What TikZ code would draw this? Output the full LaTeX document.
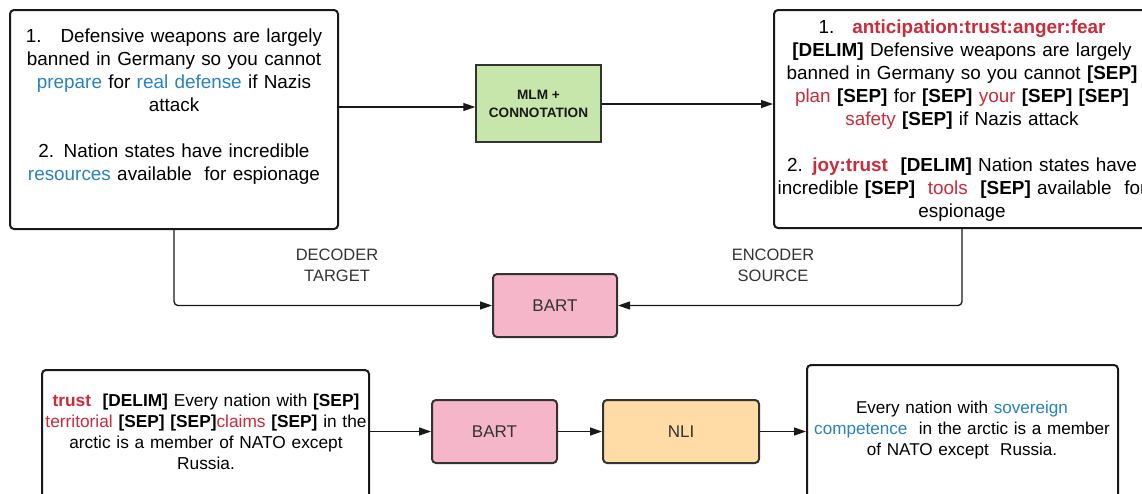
\documentclass[tikz,border=0pt]{standalone}
\usepackage{fontspec}
\setmainfont{Liberation Sans}
\usetikzlibrary{arrows.meta,calc}
\definecolor{myblue}{RGB}{40,130,195}
\definecolor{myred}{RGB}{205,42,58}
\definecolor{mygreen}{RGB}{198,230,172}
\definecolor{mypink}{RGB}{244,182,200}
\definecolor{myorange}{RGB}{255,219,166}
\definecolor{mygrey}{RGB}{51,51,51}
\newcommand\blutxt[1]{\textcolor{myblue}{#1}}
\newcommand\redtxt[1]{\textcolor{myred}{#1}}
\newcommand\redbold[1]{\textcolor{myred}{\textbf{#1}}}
\newcommand\SEPt{\textbf{[SEP]}}
\newcommand\DELIMt{\textbf{[DELIM]}}
\begin{document}
\begin{tikzpicture}[x=1pt,y=-1pt,
  plainbox/.style={draw=black!90, line width=2, rounded corners=4, fill=white},
  colbox/.style={draw=mygrey, line width=2, rounded corners=4, text=mygrey, font=\fontsize{17}{20}\selectfont},
  bigtxt/.style={align=center, text width=420, font=\fontsize{18.9}{23}\selectfont, inner sep=0},
  midtxt/.style={align=center, text width=400, font=\fontsize{17.3}{21}\selectfont, inner sep=0},
  lbl/.style={align=center, text=mygrey, font=\fontsize{16.5}{21}\selectfont, inner sep=0},
  arr/.style={line width=1.3, black!90, -{Triangle[length=12,width=8]}},
  conn/.style={line width=1.3, black!90, rounded corners=4}
]
\useasboundingbox (0,0) rectangle (1142,493);
% top-left box
\node[plainbox, minimum width=328, minimum height=219] (tl) at (174,119.5) {};
\node[bigtxt] (tlt) at (174,107) {1.\hspace*{19pt}Defensive weapons are largely\\
banned in Germany so you cannot\\
\blutxt{prepare} for \blutxt{real defense} if Nazis\\
attack\\[23pt]
2. Nation states have incredible\\
\blutxt{resources} available\ \ for espionage};
% MLM box
\node[draw=mygrey, line width=1.5, fill=mygreen, minimum width=125, minimum height=77,
  align=center, font=\fontsize{13.6}{18}\selectfont\bfseries, text=black!90] (mlm) at (538.5,103.5)
  {MLM +\\CONNOTATION};
% top-right box
\node[plainbox, minimum width=376, minimum height=218] (tr) at (962,119) {};
\node[bigtxt] (trt) at (962,121) {1.\hspace*{18pt}\redbold{anticipation:trust:anger:fear}\\
\DELIMt{} Defensive weapons are largely\\
banned in Germany so you cannot \SEPt\\
\redtxt{plan} \SEPt{} for \SEPt{} \redtxt{your} \SEPt{} \SEPt\\
\redtxt{safety} \SEPt{} if Nazis attack\\[23pt]
2. \redbold{joy:trust}\ \ \DELIMt{} Nation states have\\
incredible \SEPt\ \ \redtxt{tools}\ \ \SEPt{} available\ \ for\\
espionage};
% BART top
\node[colbox, fill=mypink, minimum width=124, minimum height=63] (bart1) at (555,305.5) {BART};
% labels
\node[lbl] (dec) at (337,265.5) {DECODER\\TARGET};
\node[lbl] (enc) at (773,265.5) {ENCODER\\SOURCE};
% connectors top
\draw[arr] (tl.east |- 0,107) -- (mlm.west |- 0,107);
\draw[arr] (mlm.east |- 0,104) -- (tr.west |- 0,104);
\draw[conn, arr] (174,0 |- tl.south) |- (bart1.west);
\draw[conn, arr] (962,0 |- tr.south) |- (bart1.east);
% bottom row
\node[plainbox, minimum width=327, minimum height=160] (bl) at (205.5,450) {};
\node[midtxt] (blt) at (206,432) {\redbold{trust}\ \ \DELIMt{} Every nation with \SEPt\\
\redtxt{territorial} \SEPt{} \SEPt\redtxt{claims} \SEPt{} in the\\
arctic is a member of NATO except\\
Russia.};
\node[colbox, fill=mypink, minimum width=125, minimum height=63] (bart2) at (494.5,431.5) {BART};
\node[colbox, fill=myorange, minimum width=156, minimum height=63] (nli) at (681,431.5) {NLI};
\node[plainbox, minimum width=311, minimum height=170] (br) at (962.5,450) {};
\node[midtxt, font=\fontsize{17.1}{21}\selectfont] (brt) at (962,430) {Every nation with \blutxt{sovereign}\\
\blutxt{competence}\ \ in the arctic is a member\\
of NATO except\ \ Russia.};
\draw[arr] (bl.east |- bart2.west) -- (bart2.west);
\draw[arr] (bart2.east) -- (nli.west);
\draw[arr] (nli.east) -- (br.west |- nli.east);
\end{tikzpicture}
\end{document}
